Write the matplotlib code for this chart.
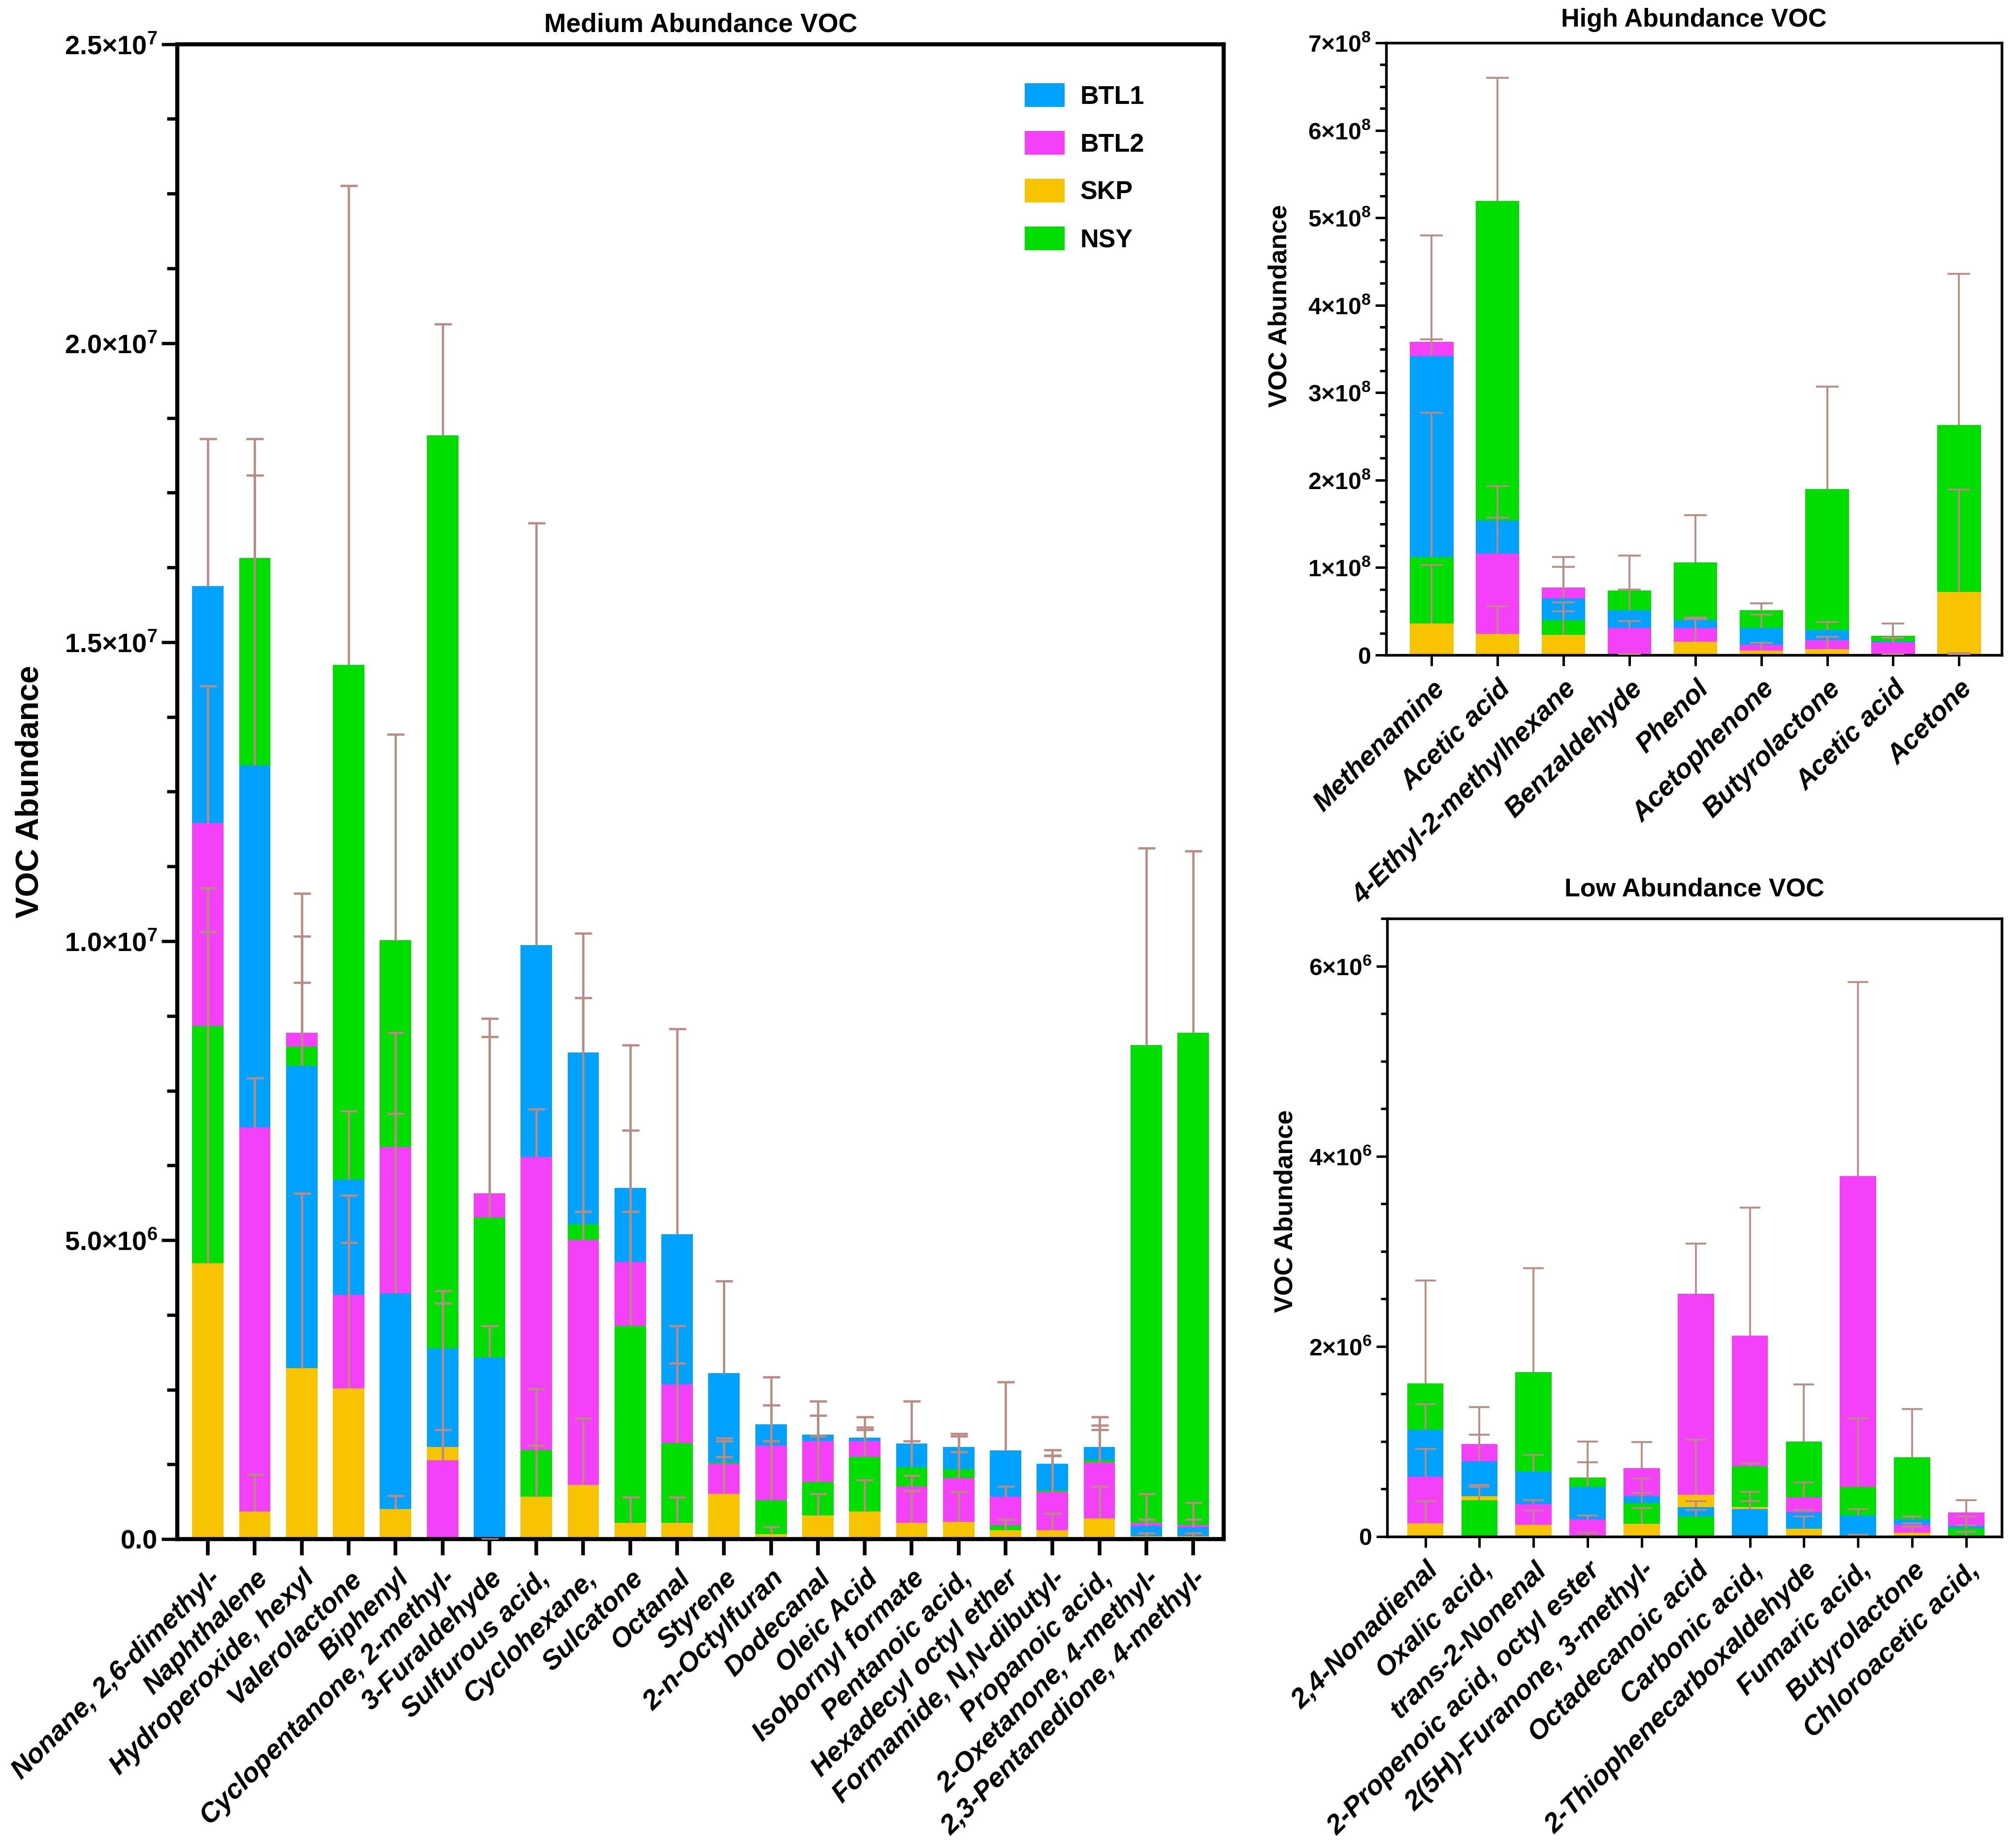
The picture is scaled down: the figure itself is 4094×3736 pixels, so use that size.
import numpy as np
import matplotlib
matplotlib.use('Agg')
import matplotlib.pyplot as plt
from matplotlib.patches import Patch
from matplotlib.ticker import MultipleLocator, FuncFormatter

plt.rcParams['font.family'] = ['Liberation Sans', 'DejaVu Sans']
plt.rcParams['font.weight'] = 'bold'
plt.rcParams['mathtext.fontset'] = 'custom'
plt.rcParams['mathtext.rm'] = 'Liberation Sans:bold'
plt.rcParams['mathtext.bf'] = 'Liberation Sans:bold'
plt.rcParams['mathtext.it'] = 'Liberation Sans:bold:italic'
plt.rcParams['mathtext.default'] = 'rm'

series = ['BTL1', 'BTL2', 'SKP', 'NSY']
colors = {'BTL1': '#00A2FF', 'BTL2': '#F540FA', 'SKP': '#F8C300', 'NSY': '#00DE00'}
err_color = '#B98B82'

# ---------------- Medium abundance (units of 1e6) ----------------
med_scale = 1e6
med_labels = ["Nonane, 2,6-dimethyl-", "Naphthalene", "Hydroperoxide, hexyl", "Valerolactone",
              "Biphenyl", "Cyclopentanone, 2-methyl-", "3-Furaldehyde", "Sulfurous acid,",
              "Cyclohexane,", "Sulcatone", "Octanal", "Styrene", "2-n-Octylfuran", "Dodecanal",
              "Oleic Acid", "Isobornyl formate", "Pentanoic acid,", "Hexadecyl octyl ether",
              "Formamide, N,N-dibutyl-", "Propanoic acid,", "2-Oxetanone, 4-methyl-",
              "2,3-Pentanedione, 4-methyl-"]
med_btl1 = [15.94, 12.94, 7.92, 6.01, 4.11, 3.19, 3.04, 9.93, 8.14, 5.87, 5.10, 2.78, 1.92, 1.75, 1.70, 1.60, 1.54, 1.48, 1.26, 1.54, 0.22, 0.20]
med_btl1_err = [2.46, 4.85, 1.39, 1.15, 3.01, 0.96, 0.53, 7.06, 1.99, 2.39, 3.43, 1.54, 0.79, 0.56, 0.34, 0.71, 0.22, 1.15, 0.23, 0.50, 0.11, 0.13]
med_btl2 = [11.98, 6.89, 8.47, 4.09, 6.56, 1.32, 5.78, 6.39, 5.00, 4.64, 2.59, 1.26, 1.57, 1.64, 1.64, 0.88, 1.02, 0.71, 0.79, 1.29, 0.27, 0.24]
med_btl2_err = [2.29, 0.82, 2.33, 1.66, 1.91, 0.51, 2.93, 0.80, 0.48, 2.20, 0.98, 0.43, 0.67, 0.43, 0.23, 0.18, 0.44, 0.17, 0.60, 0.61, 0.49, 0.37]
med_skp = [4.61, 0.46, 2.86, 2.52, 0.50, 1.54, 0.00, 0.71, 0.91, 0.27, 0.27, 0.76, 0.08, 0.40, 0.46, 0.27, 0.29, 0.15, 0.15, 0.35, 0.05, 0.05]
med_skp_err = [5.55, 0.62, 2.92, 2.44, 0.23, 2.41, 0.00, 0.86, 1.11, 0.43, 0.43, 0.62, 0.13, 0.36, 0.53, 0.54, 0.50, 0.18, 0.28, 0.53, 0.05, 0.05]
med_nsy = [8.58, 16.41, 8.24, 14.62, 10.02, 18.46, 5.38, 1.49, 5.26, 3.57, 1.61, 1.29, 0.65, 0.96, 1.38, 1.20, 1.17, 0.23, 0.82, 1.33, 8.26, 8.47]
med_nsy_err = [2.31, 1.99, 1.84, 8.01, 3.44, 1.86, 3.02, 1.02, 3.79, 1.91, 1.33, 0.35, 0.99, 0.76, 0.45, 0.44, 0.55, 0.10, 0.58, 0.50, 3.30, 3.04]

# ---------------- High abundance (units of 1e8) ----------------
high_scale = 1e8
high_labels = ["Methenamine", "Acetic acid", "4-Ethyl-2-methylhexane", "Benzaldehyde", "Phenol",
               "Acetophenone", "Butyrolactone", "Acetic acid", "Acetone"]
high_btl1 = [3.42, 1.54, 0.65, 0.51, 0.40, 0.31, 0.29, 0.16, 0.01]
high_btl1_err = [1.38, 0.39, 0.36, 0.24, 0.03, 0.15, 0.09, 0.04, 0.01]
high_btl2 = [3.58, 1.16, 0.77, 0.31, 0.31, 0.12, 0.17, 0.145, 0.01]
high_btl2_err = [0.03, 0.41, 0.35, 0.08, 0.10, 0.02, 0.04, 0.05, 0.00]
high_skp = [0.36, 0.24, 0.23, 0.01, 0.15, 0.05, 0.07, 0.005, 0.72]
high_skp_err = [0.67, 0.32, 0.27, 0.00, 0.28, 0.09, 0.14, 0.005, 1.17]
high_nsy = [1.12, 5.19, 0.40, 0.74, 1.06, 0.51, 1.90, 0.22, 2.63]
high_nsy_err = [1.65, 1.41, 0.20, 0.40, 0.54, 0.08, 1.17, 0.14, 1.73]

# ---------------- Low abundance (units of 1e6) ----------------
low_scale = 1e6
low_labels = ["2,4-Nonadienal", "Oxalic acid,", "trans-2-Nonenal", "2-Propenoic acid, octyl ester",
              "2(5H)-Furanone, 3-methyl-", "Octadecanoic acid", "Carbonic acid,",
              "2-Thiophenecarboxaldehyde", "Fumaric acid,", "Butyrolactone", "Chloroacetic acid,"]
low_btl1 = [1.12, 0.79, 0.68, 0.52, 0.42, 0.31, 0.29, 0.25, 0.22, 0.18, 0.11]
low_btl1_err = [0.27, 0.28, 0.18, 0.26, 0.19, 0.06, 0.08, 0.03, 0.07, 0.03, 0.10]
low_btl2 = [0.63, 0.97, 0.34, 0.18, 0.72, 2.55, 2.11, 0.41, 3.79, 0.12, 0.25]
low_btl2_err = [0.29, 0.39, 0.04, 0.04, 0.27, 0.53, 1.35, 0.16, 2.04, 0.02, 0.13]
low_skp = [0.14, 0.42, 0.12, 0.01, 0.13, 0.44, 0.31, 0.08, 0.01, 0.04, 0.01]
low_skp_err = [0.23, 0.10, 0.15, 0.03, 0.17, 0.58, 0.16, 0.13, 0.01, 0.06, 0.04]
low_nsy = [1.61, 0.38, 1.73, 0.62, 0.35, 0.21, 0.74, 1.00, 0.52, 0.83, 0.085]
low_nsy_err = [1.08, 0.16, 1.09, 0.38, 0.11, 0.07, 0.03, 0.60, 0.72, 0.51, 0.03]


def sci_formatter(decimals, zero_label):
    def f(v, pos):
        if abs(v) < 1e-12:
            return zero_label
        e = int(np.floor(np.log10(abs(v)) + 1e-9))
        m = v / 10 ** e
        ms = f"{m:.{decimals}f}"
        return ms + "\u00d710$^{" + str(e) + "}$"
    return FuncFormatter(f)


def draw(ax, labels, vals, errs, scale, width, capsize, elw, xfs):
    n = len(labels)
    x = np.arange(n)
    data = np.array(vals, dtype=float) * scale
    ed = np.array(errs, dtype=float) * scale
    for i, s in enumerate(series):
        bars = ax.bar(x, data[i], width, color=colors[s], linewidth=0, label=s)
        for j, p in enumerate(bars.patches):
            rank = np.sum(data[:, j] > data[i, j])
            p.set_zorder(2 + 0.1 * rank)
    for i, s in enumerate(series):
        eb = ax.errorbar(x, data[i], yerr=[np.zeros(n), ed[i]], fmt='none', ecolor=err_color,
                         elinewidth=elw, capsize=capsize, capthick=elw, zorder=4)
        caps = eb[1]
        if len(caps) == 2:
            caps[0].set_visible(False)
    ax.set_xticks(x)
    ax.set_xticklabels(labels, rotation=45, ha='right', va='top', rotation_mode='anchor',
                       fontstyle='italic', fontweight='bold', fontsize=xfs)


fig = plt.figure(figsize=(4094 / 300, 3736 / 300), dpi=300)

# Medium panel
ax1 = fig.add_axes([0.088, 0.1635, 0.519, 0.8125])
draw(ax1, med_labels, [med_btl1, med_btl2, med_skp, med_nsy],
     [med_btl1_err, med_btl2_err, med_skp_err, med_nsy_err], med_scale, 0.67, 4.2, 1.1, 13.3)
ax1.set_xlim(-0.65, len(med_labels) - 1 + 0.65)
ax1.set_ylim(0, 2.5e7)
ax1.yaxis.set_major_locator(MultipleLocator(5e6))
ax1.yaxis.set_minor_locator(MultipleLocator(1.25e6))
ax1.yaxis.set_major_formatter(sci_formatter(1, "0.0"))
ax1.tick_params(axis='y', which='major', length=7.7, width=1.6, labelsize=13, pad=2)
ax1.tick_params(axis='y', which='minor', length=5.0, width=1.6)
ax1.tick_params(axis='x', which='major', length=7.9, width=1.8, pad=5)
for sp in ax1.spines.values():
    sp.set_linewidth(2.0)
ax1.set_title("Medium Abundance VOC", fontsize=12.8, fontweight='bold', pad=6)
ax1.set_ylabel("VOC Abundance", fontsize=15.7, fontweight='bold')
ax1.yaxis.set_label_coords(-0.127, 0.5)
handles = [Patch(facecolor=colors[s], edgecolor='none', label=s) for s in series]
ax1.legend(handles=handles, loc='upper left', bbox_to_anchor=(0.81, 0.974), frameon=False,
           fontsize=12.5, handlelength=1.55, handleheight=1.05, handletextpad=0.6,
           labelspacing=0.85, borderaxespad=0, borderpad=0)

# High panel
ax2 = fig.add_axes([0.6876, 0.644, 0.3054, 0.3327])
draw(ax2, high_labels, [high_btl1, high_btl2, high_skp, high_nsy],
     [high_btl1_err, high_btl2_err, high_skp_err, high_nsy_err], high_scale, 0.66, 5.5, 0.9, 13.2)
ax2.set_xlim(-0.69, len(high_labels) - 1 + 0.65)
ax2.set_ylim(0, 7e8)
ax2.yaxis.set_major_locator(MultipleLocator(1e8))
ax2.yaxis.set_minor_locator(MultipleLocator(0.25e8))
ax2.yaxis.set_major_formatter(sci_formatter(0, "0"))
ax2.tick_params(axis='y', which='major', length=5.4, width=1.2, labelsize=11.5, pad=2)
ax2.tick_params(axis='y', which='minor', length=3.2, width=1.2)
ax2.tick_params(axis='x', which='major', length=5.2, width=1.2, pad=5)
for sp in ax2.spines.values():
    sp.set_linewidth(1.3)
ax2.set_title("High Abundance VOC", fontsize=12.5, fontweight='bold', pad=8)
ax2.set_ylabel("VOC Abundance", fontsize=12.6, fontweight='bold')
ax2.yaxis.set_label_coords(-0.153, 0.57)

# Low panel
ax3 = fig.add_axes([0.688, 0.165, 0.305, 0.3358])
draw(ax3, low_labels, [low_btl1, low_btl2, low_skp, low_nsy],
     [low_btl1_err, low_btl2_err, low_skp_err, low_nsy_err], low_scale, 0.67, 5.0, 0.9, 13.4)
ax3.set_xlim(-0.71, len(low_labels) - 1 + 0.66)
ax3.set_ylim(0, 6.5e6)
ax3.yaxis.set_major_locator(MultipleLocator(2e6))
ax3.yaxis.set_minor_locator(MultipleLocator(0.5e6))
ax3.yaxis.set_major_formatter(sci_formatter(0, "0"))
ax3.tick_params(axis='y', which='major', length=5.4, width=1.2, labelsize=11.5, pad=2)
ax3.tick_params(axis='y', which='minor', length=3.2, width=1.2)
ax3.tick_params(axis='x', which='major', length=5.2, width=1.2, pad=5)
for sp in ax3.spines.values():
    sp.set_linewidth(1.3)
ax3.set_title("Low Abundance VOC", fontsize=12.5, fontweight='bold', pad=11)
ax3.set_ylabel("VOC Abundance", fontsize=12.6, fontweight='bold')
ax3.yaxis.set_label_coords(-0.145, 0.526)

fig.savefig("out.png", dpi=300)
